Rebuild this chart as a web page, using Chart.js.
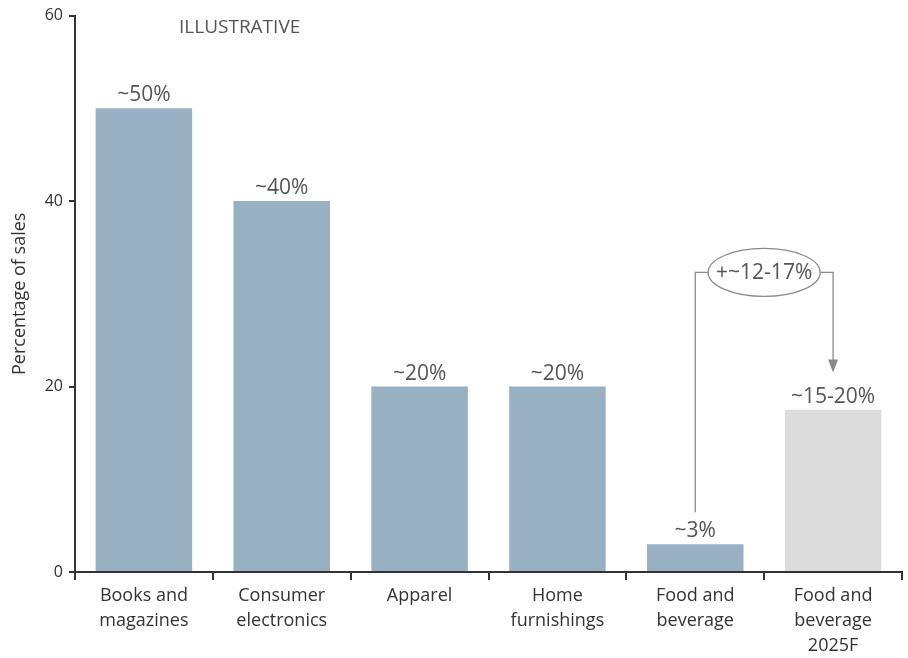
<!DOCTYPE html>
<html><head><meta charset="utf-8">
<script src="https://cdn.jsdelivr.net/npm/chart.js@4.4.0/dist/chart.umd.min.js"></script>
<style>html,body{margin:0;padding:0;background:#fff}#wrap{width:908px;height:658px}</style>
</head><body><div id="wrap"><canvas id="c" width="908" height="658"></canvas></div>
<script>
const categories = [["Books and","magazines"],["Consumer","electronics"],"Apparel",["Home","furnishings"],["Food and","beverage"],["Food and","beverage","2025F"]];
const values = [50, 40, 20, 20, 3, 17.5];
const valueLabels = ["~50%","~40%","~20%","~20%","~3%","~15-20%"];
const yTicks = [0, 20, 40, 60];
const changeLabel = "+~12-17%";
const bracketLevel = 32.3;   // y-value of the bracket line
const arrowEndValue = 21.5;  // y-value where the arrow tip ends

const FONT = "'Open Sans', 'Noto Sans', sans-serif";
const barColors = ["#97B0C2","#97B0C2","#97B0C2","#97B0C2","#97B0C2","#DCDCDC"];

const labelPlugin = {
  id: 'labels',
  afterDatasetsDraw(chart) {
    const ctx = chart.ctx;
    const meta = chart.getDatasetMeta(0);
    ctx.save();
    ctx.font = "21px " + FONT;
    ctx.fillStyle = "#555";
    ctx.textAlign = "center";
    ctx.textBaseline = "alphabetic";
    meta.data.forEach((bar, i) => {
      ctx.fillText(valueLabels[i], bar.x, bar.y - 7);
    });
    // Illustrative
    ctx.font = "19px " + FONT;
    ctx.textAlign = "left";
    ctx.fillText("ILLUSTRATIVE", 179, 33);

    // bracket annotation
    const ys = chart.scales.y;
    const b1 = meta.data[4], b2 = meta.data[5];
    const x1 = b1.x, x2 = b2.x;
    const yStart = b1.y - 32;
    const yBr = ys.getPixelForValue(bracketLevel);
    const yEnd = ys.getPixelForValue(arrowEndValue);
    const cx = (x1 + x2) / 2, rx = 56, ry = 24;
    ctx.strokeStyle = "#8a8a8a";
    ctx.lineWidth = 1.3;
    ctx.beginPath();
    ctx.moveTo(x1, yStart); ctx.lineTo(x1, yBr); ctx.lineTo(cx - rx, yBr);
    ctx.moveTo(cx + rx, yBr); ctx.lineTo(x2, yBr); ctx.lineTo(x2, yEnd - 12);
    ctx.stroke();
    ctx.fillStyle = "#8a8a8a";
    ctx.beginPath();
    ctx.moveTo(x2 - 5, yEnd - 13); ctx.lineTo(x2 + 5, yEnd - 13); ctx.lineTo(x2, yEnd); ctx.closePath();
    ctx.fill();
    ctx.beginPath();
    ctx.ellipse(cx, yBr, rx, ry, 0, 0, Math.PI * 2);
    ctx.stroke();
    ctx.fillStyle = "#555";
    ctx.font = "21px " + FONT;
    ctx.textAlign = "center";
    ctx.textBaseline = "middle";
    ctx.fillText(changeLabel, cx, yBr + 1);
    ctx.restore();
  }
};

new Chart(document.getElementById('c'), {
  type: 'bar',
  data: {
    labels: categories,
    datasets: [{ data: values, backgroundColor: barColors, barPercentage: 0.7, categoryPercentage: 1.0 }]
  },
  options: {
    responsive: false,
    animation: false,
    layout: { padding: { top: 15, right: 6, bottom: 0, left: 0 } },
    plugins: { legend: { display: false }, tooltip: { enabled: false } },
    scales: {
      x: {
        grid: { offset: true, drawOnChartArea: false, drawTicks: true, tickLength: 8, color: "#333", lineWidth: 2 },
        border: { color: "#333", width: 2 },
        ticks: { color: "#333", font: { family: FONT, size: 18, lineHeight: 1.4 }, padding: 3, maxRotation: 0, autoSkip: false },
        afterFit: s => { s.height = 86; }
      },
      y: {
        min: 0, max: 60,
        afterBuildTicks: s => { s.ticks = yTicks.map(v => ({ value: v })); },
        grid: { drawOnChartArea: false, drawTicks: true, tickLength: 6, color: "#333", lineWidth: 2 },
        border: { color: "#333", width: 2 },
        ticks: { color: "#333", font: { family: FONT, size: 16 }, padding: 6 },
        title: { display: true, text: "Percentage of sales", color: "#333", font: { family: FONT, size: 18 }, padding: { top: 9, bottom: 0 } },
        afterFit: s => { s.width = 75; }
      }
    }
  },
  plugins: [labelPlugin]
});
</script>
</body></html>
